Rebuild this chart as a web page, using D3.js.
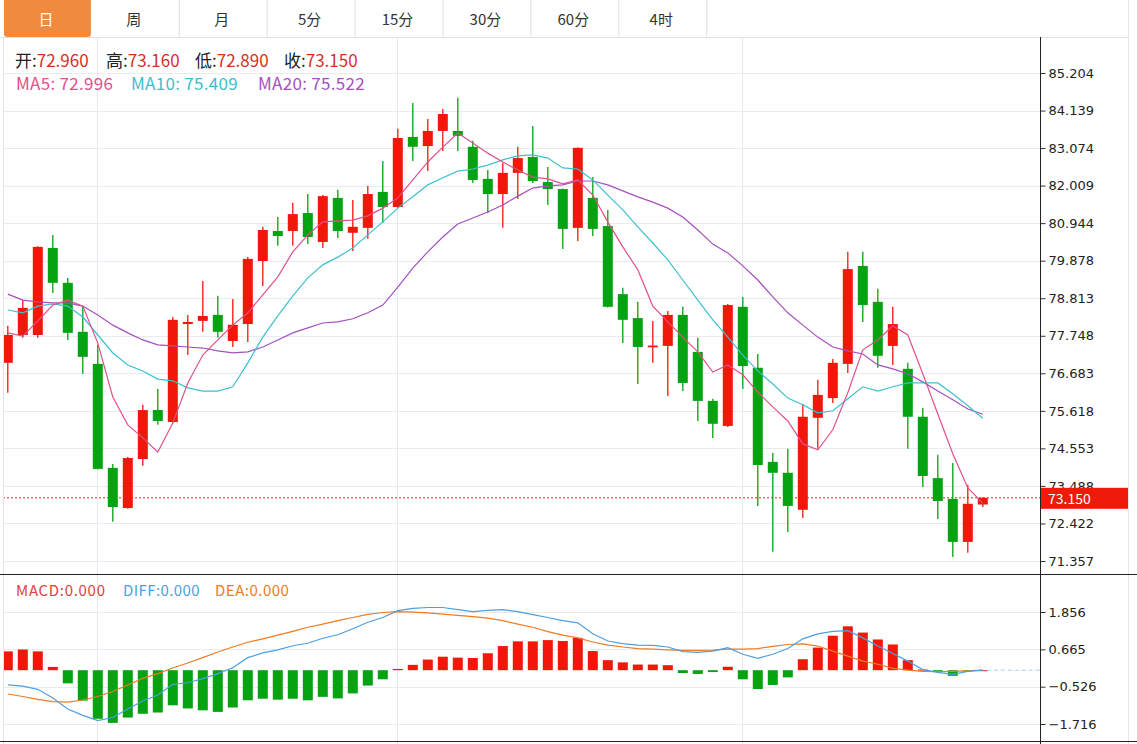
<!DOCTYPE html>
<html><head><meta charset="utf-8">
<script src="https://cdn.jsdelivr.net/npm/d3@7"></script>
<style>
html,body{margin:0;padding:0;background:#fff;}
svg{display:block;}
text{font-family:"Noto Sans CJK SC","Microsoft YaHei",sans-serif;}
.ax text{font-family:"DejaVu Sans",Verdana,sans-serif;font-size:13px;fill:#222;}
</style></head><body>
<svg id="c" width="1137" height="744"></svg>
<script>
// ---------------- data ----------------
const tabs = ["日","周","月","5分","15分","30分","60分","4时"];
const opens  = [76.98,77.77,77.77,80.24,79.25,77.86,76.95,74.00,72.86,74.25,75.64,75.30,78.08,78.17,78.34,77.60,78.08,79.87,80.72,80.72,81.23,80.41,81.66,80.67,80.81,81.83,81.40,83.39,83.13,83.56,83.56,83.11,82.20,81.77,82.37,82.82,82.11,81.91,80.81,81.66,80.86,78.93,78.25,77.42,77.46,78.34,77.29,75.90,75.19,78.57,76.84,74.17,73.86,72.81,75.42,75.98,76.95,79.73,78.71,77.46,76.81,75.45,73.71,73.12,71.90,72.96];
const closes = [77.77,78.54,80.27,79.25,77.83,77.15,73.97,72.89,74.28,75.64,75.33,78.20,78.14,78.31,77.86,78.06,79.93,80.75,80.58,81.20,80.55,81.71,80.72,80.84,81.77,81.40,83.36,83.11,83.56,84.04,83.42,82.17,81.77,82.37,82.79,82.14,81.91,80.78,83.08,80.78,78.57,78.20,77.43,77.47,78.34,76.41,75.90,75.25,78.62,76.89,74.08,73.86,72.92,75.45,76.07,76.98,79.64,78.62,77.18,78.08,75.45,73.77,73.06,71.90,72.98,73.15];
const highs  = [78.03,78.76,80.29,80.61,79.39,78.57,77.49,74.11,74.31,75.79,76.24,78.28,78.34,79.30,78.88,78.79,79.98,80.84,81.12,81.52,81.77,81.74,81.89,81.60,82.00,82.71,83.62,84.35,83.90,84.18,84.50,83.28,82.45,82.65,83.11,83.70,82.54,81.93,83.09,82.25,81.32,79.11,78.71,78.17,78.45,78.57,77.69,75.96,78.65,78.85,77.23,74.42,74.54,75.81,76.50,77.09,80.13,80.13,79.08,78.57,76.98,75.70,74.37,74.14,73.52,73.16];
const lows   = [76.13,77.69,77.69,78.96,77.63,76.67,73.95,72.47,72.84,74.06,75.22,75.28,77.20,77.86,77.69,77.43,77.57,79.16,80.30,80.30,80.35,80.24,80.52,80.15,80.50,80.95,81.38,82.71,82.42,82.99,82.99,82.08,81.23,80.81,81.63,82.08,81.46,80.21,80.44,80.58,78.55,77.54,76.38,76.98,76.04,76.18,75.33,74.85,75.16,76.24,72.92,71.62,72.18,72.58,74.54,75.84,76.69,78.14,76.84,76.92,74.54,73.46,72.55,71.47,71.59,72.89];
const ma5  = [77.83,77.74,78.17,78.62,78.76,78.59,77.54,76.01,75.22,74.85,74.45,75.27,76.41,77.20,77.63,78.05,78.40,78.91,79.42,80.13,80.61,80.98,81.01,81.03,81.15,81.37,81.66,82.17,82.68,83.10,83.50,83.22,82.93,82.68,82.45,82.25,82.20,82.06,82.17,81.74,80.98,80.27,79.62,78.59,78.14,77.71,77.29,76.72,76.92,76.64,76.15,75.73,75.33,74.68,74.51,75.08,76.13,77.35,77.63,78.03,77.77,76.67,75.53,74.40,73.43,73.00];
const ma10 = [78.48,78.40,78.59,78.65,78.59,78.28,77.77,77.26,76.92,76.75,76.52,76.47,76.27,76.18,76.18,76.30,76.98,77.71,78.31,78.88,79.39,79.76,79.98,80.24,80.61,80.98,81.37,81.69,82.03,82.23,82.42,82.48,82.59,82.74,82.85,82.88,82.79,82.51,82.48,82.17,81.74,81.32,80.84,80.38,79.90,79.33,78.76,78.20,77.71,77.20,76.75,76.38,75.98,75.79,75.56,75.62,75.96,76.30,76.18,76.30,76.41,76.41,76.41,76.10,75.76,75.41];
const ma20 = [78.93,78.76,78.71,78.68,78.68,78.59,78.34,78.05,77.83,77.63,77.49,77.46,77.43,77.40,77.32,77.26,77.29,77.43,77.63,77.83,77.97,78.11,78.14,78.23,78.40,78.62,79.13,79.67,80.13,80.55,80.92,81.09,81.26,81.46,81.71,81.94,82.00,82.03,82.14,82.14,82.03,81.86,81.69,81.54,81.37,81.12,80.75,80.35,80.10,79.73,79.33,78.85,78.40,78.05,77.71,77.43,77.32,77.23,76.92,76.81,76.67,76.44,76.18,75.93,75.67,75.52];
const macdBars = [0.60,0.66,0.60,0.105,-0.42,-0.97,-1.55,-1.68,-1.51,-1.39,-1.35,-1.12,-1.22,-1.28,-1.33,-1.19,-0.96,-0.91,-0.94,-0.91,-0.96,-0.85,-0.90,-0.74,-0.49,-0.29,0.04,0.17,0.34,0.43,0.40,0.39,0.54,0.77,0.92,0.92,0.96,0.93,1.03,0.61,0.32,0.25,0.18,0.18,0.16,-0.09,-0.12,-0.06,0.11,-0.29,-0.60,-0.47,-0.23,0.35,0.72,1.10,1.40,1.20,0.98,0.82,0.32,0.02,-0.05,-0.18,-0.02,0.00];
const diff = [-0.47,-0.51,-0.61,-0.89,-1.24,-1.44,-1.61,-1.51,-1.24,-0.98,-0.79,-0.45,-0.40,-0.27,-0.11,0.08,0.40,0.55,0.65,0.78,0.86,1.02,1.13,1.32,1.53,1.68,1.90,1.97,2.00,2.00,1.93,1.87,1.91,1.93,1.87,1.77,1.68,1.58,1.51,1.16,0.93,0.85,0.80,0.79,0.74,0.59,0.57,0.61,0.72,0.51,0.38,0.51,0.69,1.00,1.16,1.24,1.26,1.03,0.77,0.53,0.29,0.02,-0.07,-0.13,-0.04,0.00];
const dea  = [-0.76,-0.84,-0.93,-1.00,-1.02,-0.95,-0.84,-0.68,-0.47,-0.26,-0.11,0.07,0.23,0.40,0.58,0.74,0.89,1.00,1.12,1.24,1.37,1.47,1.58,1.68,1.78,1.84,1.87,1.85,1.83,1.79,1.75,1.71,1.66,1.58,1.47,1.37,1.23,1.12,1.03,0.90,0.80,0.74,0.69,0.67,0.65,0.63,0.63,0.64,0.67,0.67,0.69,0.76,0.82,0.84,0.77,0.61,0.45,0.29,0.19,0.06,0.00,-0.04,-0.05,-0.04,-0.02,0.00];
const priceTicks = [85.204,84.139,83.074,82.009,80.944,79.878,78.813,77.748,76.683,75.618,74.553,73.488,72.422,71.357];
const macdTicks = [1.856,0.665,-0.526,-1.716];
const monthStarts = [6,26,49];
const lastInfo = {open:"72.960",high:"73.160",low:"72.890",close:"73.150"};
const maInfo = {ma5:"72.996",ma10:"75.409",ma20:"75.522"};
const macdInfo = {macd:"0.000",diff:"0.000",dea:"0.000"};
const lastClose = 73.150;

// ---------------- layout ----------------
const W=1137,H=744, L=3, R=1040, RB=1128;
const tabH=37, pBot=574, mBot=741;
const UP="#f2170b", DN="#05a212";
const svg=d3.select("#c");
const n=closes.length;
const x=d3.scaleLinear().domain([0,n-1]).range([7.8,982.8]);
const y=d3.scaleLinear().domain([71.357,85.204]).range([561,73]);
const ym=d3.scaleLinear().domain([-1.716,1.856]).range([724,612]);
const bw=10;

// tabs
const tabW=87.9;
const tg=svg.append("g");
tg.append("line").attr("x1",0).attr("x2",RB).attr("y1",tabH+0.5).attr("y2",tabH+0.5).attr("stroke","#e2e2e2");
tabs.forEach((t,i)=>{
  const x0=i*tabW;
  if(i===0){
    tg.append("path").attr("d",`M4,0H${x0+tabW+3}V${tabH-3}Q${x0+tabW+3},${tabH} ${x0+tabW},${tabH}H7Q4,${tabH} 4,${tabH-3}Z`).attr("fill","#f08b3e");
  } else {
    tg.append("line").attr("x1",x0+tabW+3.5).attr("x2",x0+tabW+3.5).attr("y1",0).attr("y2",tabH).attr("stroke","#e0e0e0");
  }
  tg.append("text").attr("x",x0+tabW/2+2).attr("y",18).attr("text-anchor","middle").attr("dominant-baseline","central")
    .attr("font-size",15).attr("fill",i===0?"#fff":"#333").text(t);
});

// borders & grid
const g=svg.append("g");
g.append("line").attr("x1",L+0.5).attr("x2",L+0.5).attr("y1",tabH).attr("y2",H).attr("stroke","#dde3e8");
g.append("line").attr("x1",RB+0.5).attr("x2",RB+0.5).attr("y1",0).attr("y2",H).attr("stroke","#e6e6e6");
monthStarts.forEach(i=>{
  const xx=Math.round(x(i))-0.5;
  g.append("line").attr("x1",xx).attr("x2",xx).attr("y1",tabH).attr("y2",H).attr("stroke","#e3eaf0");
});
priceTicks.forEach(v=>{
  const yy=Math.round(y(v))+0.5;
  g.append("line").attr("x1",L).attr("x2",R).attr("y1",yy).attr("y2",yy).attr("stroke","#e6ecf1");
});
macdTicks.forEach(v=>{
  const yy=Math.round(ym(v))+0.5;
  g.append("line").attr("x1",L).attr("x2",R).attr("y1",yy).attr("y2",yy).attr("stroke","#e6ecf1");
});

// clip
svg.append("clipPath").attr("id","clp").append("rect").attr("x",L+1).attr("y",tabH).attr("width",R-L-1).attr("height",H-tabH);
const plot=svg.append("g").attr("clip-path","url(#clp)");

// close price dashed line
plot.append("line").attr("x1",L).attr("x2",R).attr("y1",y(lastClose)).attr("y2",y(lastClose))
  .attr("stroke","#d42a1e").attr("stroke-width",1).attr("stroke-dasharray","2,2");

// candles
const cg=plot.append("g");
for(let i=0;i<n;i++){
  const up=closes[i]>=opens[i];
  const col=up?UP:DN;
  const cx=x(i);
  cg.append("line").attr("x1",cx).attr("x2",cx).attr("y1",y(highs[i])).attr("y2",y(lows[i])).attr("stroke",col).attr("stroke-width",1.3);
  const top=y(Math.max(opens[i],closes[i])), bot=y(Math.min(opens[i],closes[i]));
  cg.append("rect").attr("x",cx-bw/2).attr("y",top).attr("width",bw).attr("height",Math.max(1.5,bot-top)).attr("fill",col);
}

// MA lines
const line=d3.line().x((d,i)=>x(i)).y(d=>y(d));
[[ma20,"#a64fbf"],[ma10,"#3cc0d0"],[ma5,"#e2508a"]].forEach(([arr,c])=>{
  plot.append("path").datum(arr).attr("d",line).attr("fill","none").attr("stroke",c).attr("stroke-width",1.2);
});

// MACD bars
const z=ym(0);
macdBars.forEach((v,i)=>{
  const yy=ym(v);
  plot.append("rect").attr("x",x(i)-bw/2).attr("width",bw)
    .attr("y",Math.min(yy,z)).attr("height",Math.max(1,Math.abs(yy-z)))
    .attr("fill",v>=0?UP:DN);
});
const mline=d3.line().x((d,i)=>x(i)).y(d=>ym(d));
plot.append("path").datum(dea).attr("d",mline).attr("fill","none").attr("stroke","#f07b22").attr("stroke-width",1.2);
plot.append("path").datum(diff).attr("d",mline).attr("fill","none").attr("stroke","#4d9fe3").attr("stroke-width",1.2);
plot.append("line").attr("x1",x(n-1)+4).attr("x2",R).attr("y1",z).attr("y2",z).attr("stroke","#a9d3ea").attr("stroke-dasharray","4,3");

// panel lines
g.append("line").attr("x1",0).attr("x2",W).attr("y1",pBot+0.5).attr("y2",pBot+0.5).attr("stroke","#222");
svg.append("line").attr("x1",0).attr("x2",W).attr("y1",mBot+0.5).attr("y2",mBot+0.5).attr("stroke","#222");
svg.append("line").attr("x1",R+0.5).attr("x2",R+0.5).attr("y1",tabH).attr("y2",H).attr("stroke","#222");

// axes
const ax=svg.append("g").attr("class","ax").attr("transform",`translate(${R+0.5},0)`)
  .call(d3.axisRight(y).tickValues(priceTicks).tickSize(5).tickPadding(3).tickFormat(d3.format(".3f")));
ax.select(".domain").remove();
ax.selectAll(".tick line").attr("stroke","#333");
const axm=svg.append("g").attr("class","ax").attr("transform",`translate(${R+0.5},0)`)
  .call(d3.axisRight(ym).tickValues(macdTicks).tickSize(5).tickPadding(3).tickFormat(d3.format(".3f")));
axm.select(".domain").remove();
axm.selectAll(".tick line").attr("stroke","#333");

// last price label
const ly=y(lastClose);
svg.append("rect").attr("x",R+1).attr("y",ly-10).attr("width",RB-R-1).attr("height",21).attr("fill","#f01a0a");
svg.append("text").attr("x",R+8).attr("y",ly+0.5).attr("dominant-baseline","central")
  .attr("font-family","DejaVu Sans,Verdana,sans-serif").attr("font-size",14).attr("fill","#fff").text(lastClose.toFixed(3));

// header texts
function seg(parent,xx,yy,parts,size,ls){
  const t=parent.append("text").attr("x",xx).attr("y",yy).attr("dominant-baseline","central").attr("font-size",size)
    .attr("letter-spacing",ls||0);
  parts.forEach(([s,c])=>t.append("tspan").attr("fill",c).text(s));
}
const hg=svg.append("g");
const VR="#d8301f";
seg(hg,15,59,[["开:","#222"],[lastInfo.open,VR]],17,0);
seg(hg,106,59,[["高:","#222"],[lastInfo.high,VR]],17,0);
seg(hg,195,59,[["低:","#222"],[lastInfo.low,VR]],17,0);
seg(hg,284,59,[["收:","#222"],[lastInfo.close,VR]],17,0);
seg(hg,16,82,[["MA5: "+maInfo.ma5,"#e2508a"]],17,0.3);
seg(hg,131,82,[["MA10: "+maInfo.ma10,"#3cc0d0"]],17,0.3);
seg(hg,258,82,[["MA20: "+maInfo.ma20,"#a64fbf"]],17,0.3);
seg(hg,16,589,[["MACD:"+macdInfo.macd,"#e0413a"]],15,0.7);
seg(hg,123,589,[["DIFF:"+macdInfo.diff,"#4d9fe3"]],15,0.4);
seg(hg,215,589,[["DEA:"+macdInfo.dea,"#f07b22"]],15,0.5);
</script>
</body></html>
